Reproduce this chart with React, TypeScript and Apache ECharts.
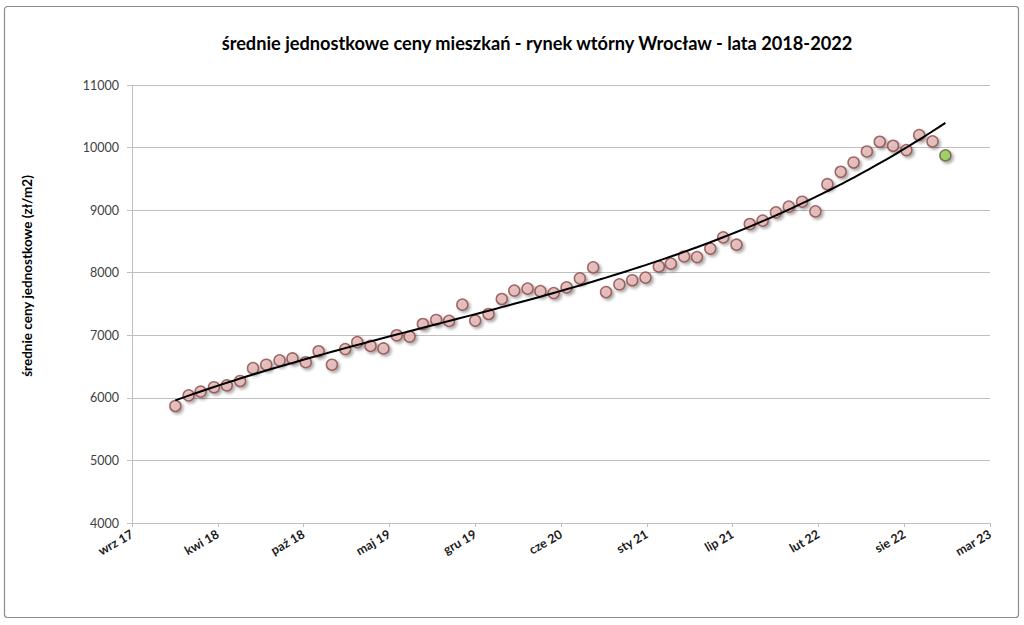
import React, { useEffect, useRef } from "react";
import * as echarts from "echarts";

const TITLE = "średnie jednostkowe ceny mieszkań - rynek wtórny Wrocław - lata 2018-2022";
const Y_NAME = "średnie ceny jednostkowe (zł/m2)";
const MONTH_ABBR = ["sty", "lut", "mar", "kwi", "maj", "cze", "lip", "sie", "wrz", "paź", "lis", "gru"];

const months = [
  "2018-01", "2018-02", "2018-03", "2018-04", "2018-05", "2018-06", "2018-07", "2018-08", "2018-09", "2018-10", "2018-11", "2018-12",
  "2019-01", "2019-02", "2019-03", "2019-04", "2019-05", "2019-06", "2019-07", "2019-08", "2019-09", "2019-10", "2019-11", "2019-12",
  "2020-01", "2020-02", "2020-03", "2020-04", "2020-05", "2020-06", "2020-07", "2020-08", "2020-09", "2020-10", "2020-11", "2020-12",
  "2021-01", "2021-02", "2021-03", "2021-04", "2021-05", "2021-06", "2021-07", "2021-08", "2021-09", "2021-10", "2021-11", "2021-12",
  "2022-01", "2022-02", "2022-03", "2022-04", "2022-05", "2022-06", "2022-07", "2022-08", "2022-09", "2022-10", "2022-11", "2022-12",
];

const prices = [
  5870, 6040, 6100, 6170, 6200, 6270, 6475, 6530, 6600, 6630, 6570, 6745,
  6530, 6780, 6890, 6830, 6790, 7000, 6980, 7180, 7245, 7230, 7490, 7235,
  7340, 7580, 7715, 7745, 7705, 7675, 7765, 7910, 8085, 7690, 7815, 7880,
  7922, 8100, 8145, 8260, 8250, 8385, 8565, 8448, 8778, 8832, 8965, 9056,
  9135, 8980, 9415, 9613, 9762, 9938, 10093, 10029, 9960, 10200, 10099, 9875,
];

const TREND_ORDER = 3; // polynomial trendline order

const X_MIN = 43000; // Excel date serial
const X_MAX = 45000;
const X_STEP = 200;
const Y_MIN = 4000;
const Y_MAX = 11000;
const Y_STEP = 1000;

const EXCEL_EPOCH = Date.UTC(1899, 11, 30);
const DAY = 86400000;

function toSerial(ym: string): number {
  const [y, m] = ym.split("-").map(Number);
  return (Date.UTC(y, m - 1, 1) - EXCEL_EPOCH) / DAY;
}

function serialLabel(v: number): string {
  const d = new Date(EXCEL_EPOCH + v * DAY);
  return MONTH_ABBR[d.getUTCMonth()] + " " + String(d.getUTCFullYear() % 100).padStart(2, "0");
}

// least-squares polynomial fit (Excel-style trendline)
function polyFit(xs: number[], ys: number[], order: number): number[] {
  const n = order + 1;
  const A: number[][] = Array.from({ length: n }, () => new Array(n + 1).fill(0));
  for (let i = 0; i < xs.length; i++) {
    for (let r = 0; r < n; r++) {
      for (let c = 0; c < n; c++) A[r][c] += Math.pow(xs[i], r + c);
      A[r][n] += ys[i] * Math.pow(xs[i], r);
    }
  }
  for (let p = 0; p < n; p++) {
    let best = p;
    for (let r = p + 1; r < n; r++) if (Math.abs(A[r][p]) > Math.abs(A[best][p])) best = r;
    [A[p], A[best]] = [A[best], A[p]];
    for (let r = 0; r < n; r++) {
      if (r === p) continue;
      const f = A[r][p] / A[p][p];
      for (let c = p; c <= n; c++) A[r][c] -= f * A[p][c];
    }
  }
  return A.map((row, i) => row[n] / row[i]);
}

export default function App() {
  const ref = useRef<HTMLDivElement>(null);
  useEffect(() => {
    if (!ref.current) return;
    const chart = echarts.init(ref.current, undefined, { renderer: "svg" });
    const xs = months.map(toSerial);
    const ts = xs.map((x) => (x - X_MIN) / 1000);
    const coef = polyFit(ts, prices, TREND_ORDER);
    const trend = ts.map((t, i) => [xs[i], coef.reduce((s, c, k) => s + c * Math.pow(t, k), 0)]);
    const last = prices.length - 1;
    const points = prices.map((p, i) =>
      i === last
        ? { value: [xs[i], p], itemStyle: { color: "#92D050", borderColor: "#6E5A3A" } }
        : { value: [xs[i], p] }
    );
    const font = "Lato, 'Open Sans', sans-serif";
    chart.setOption({
      animation: false,
      backgroundColor: "#ffffff",
      textStyle: { fontFamily: font },
      grid: { left: 132, right: 34, top: 85, bottom: 102, containLabel: false },
      xAxis: {
        type: "value",
        min: X_MIN,
        max: X_MAX,
        interval: X_STEP,
        axisLine: { show: true, lineStyle: { color: "#BFBFBF", width: 1 } },
        axisTick: { show: true, inside: false, length: 4, lineStyle: { color: "#BFBFBF" } },
        splitLine: { show: false },
        axisLabel: {
          rotate: 30,
          margin: 10,
          fontSize: 12.5,
          fontWeight: "bold",
          color: "#1a1a1a",
          fontFamily: font,
          formatter: (v: number) => serialLabel(v),
        },
      },
      yAxis: {
        type: "value",
        min: Y_MIN,
        max: Y_MAX,
        interval: Y_STEP,
        axisLine: { show: true, lineStyle: { color: "#BFBFBF", width: 1 } },
        axisTick: { show: true, inside: false, length: 5, lineStyle: { color: "#BFBFBF" } },
        splitLine: { show: true, lineStyle: { color: "#BFBFBF", width: 1 } },
        axisLabel: {
          margin: 13,
          fontSize: 12.5,
          color: "#404040",
          fontFamily: font,
          formatter: (v: number) => String(v),
        },
      },
      series: [
        {
          type: "scatter",
          data: points,
          symbol: "circle",
          symbolSize: 11,
          z: 2,
          itemStyle: {
            color: "#E6B9B8",
            borderColor: "#8C4A48",
            borderWidth: 1.5,
            shadowColor: "rgba(0,0,0,0.4)",
            shadowBlur: 3,
            shadowOffsetX: 2,
            shadowOffsetY: 2,
          },
          emphasis: { disabled: true },
        },
        {
          type: "line",
          data: trend,
          showSymbol: false,
          symbol: "none",
          smooth: true,
          z: 3,
          lineStyle: { color: "#000000", width: 2 },
          emphasis: { disabled: true },
        },
      ],
      graphic: [
        {
          type: "rect",
          shape: { x: 4.5, y: 6.5, width: 1014, height: 611, r: 3 },
          style: { fill: "none", stroke: "#8C8C8C", lineWidth: 1.2 },
          z: 0,
        },
        {
          type: "text",
          x: 537,
          y: 43,
          style: {
            text: TITLE,
            fontSize: 18.2,
            fontWeight: "bold",
            fontFamily: font,
            fill: "#000000",
            textAlign: "center",
            textVerticalAlign: "middle",
          },
        },
        {
          type: "text",
          x: 27,
          y: 276,
          rotation: Math.PI / 2,
          style: {
            text: Y_NAME,
            fontSize: 13.5,
            fontWeight: "bold",
            fontFamily: font,
            fill: "#000000",
            textAlign: "center",
            textVerticalAlign: "middle",
          },
        },
      ],
    });
    return () => chart.dispose();
  }, []);
  return (
    <div
      ref={ref}
      style={{ position: "fixed", left: 0, top: 0, width: 1024, height: 625, background: "#fff" }}
    />
  );
}
